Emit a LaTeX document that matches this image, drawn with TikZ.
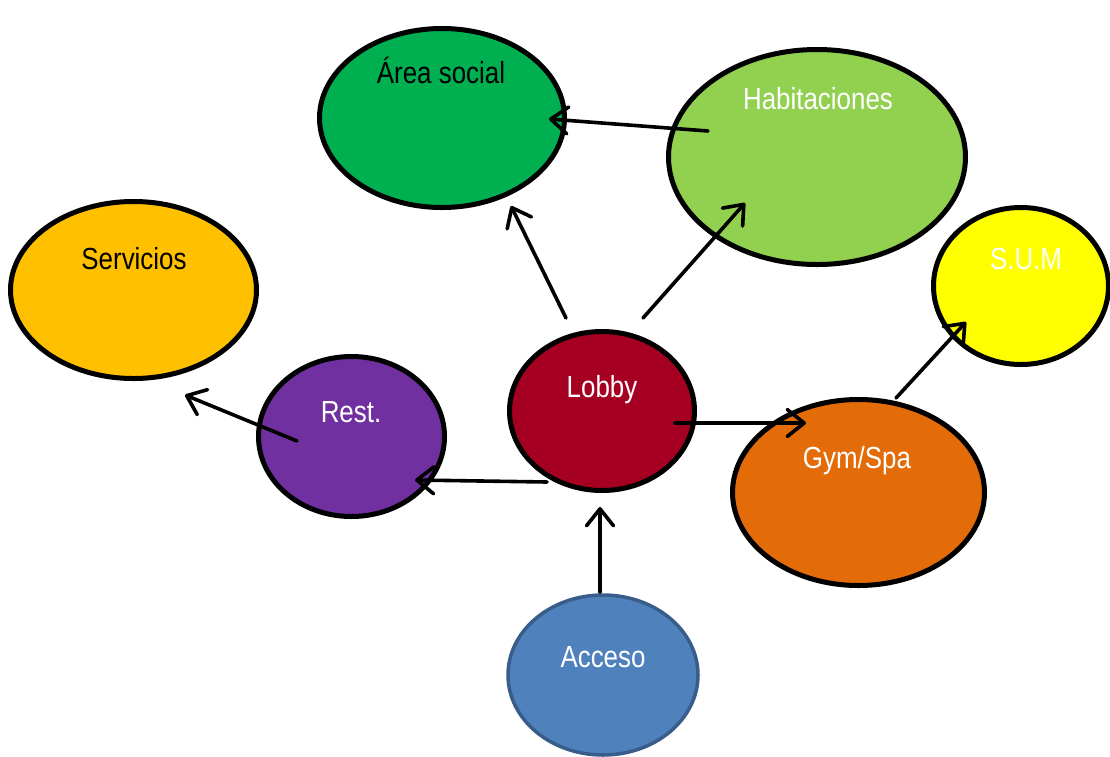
\documentclass[tikz,border=0pt]{standalone}
\usepackage{fontspec}
\setmainfont{Liberation Sans}[FakeStretch=0.85]
\usetikzlibrary{shapes.geometric,arrows.meta,calc}
\definecolor{cArea}{HTML}{00B050}
\definecolor{cHab}{HTML}{92D050}
\definecolor{cServ}{HTML}{FFC000}
\definecolor{cSum}{HTML}{FFFF00}
\definecolor{cLobby}{HTML}{A50021}
\definecolor{cRest}{HTML}{7030A0}
\definecolor{cGym}{HTML}{E36C09}
\definecolor{cAcc}{HTML}{4F81BD}
\definecolor{cAccB}{HTML}{385D8A}
\tikzset{
  blob/.style={ellipse, draw=black, line width=5pt, inner sep=0pt, outer sep=0pt},
  lbl/.style={anchor=base, inner sep=0pt, font=\fontsize{30.5}{36}\selectfont},
  conn/.style={line width=3.6pt, line cap=round, -{Straight Barb[length=17pt,width=27pt,line width=3.6pt,round]}}
}
\begin{document}
\begin{tikzpicture}[x=1pt,y=-1pt]
\useasboundingbox (0,0) rectangle (1110,756);
% ellipses
\node[blob, fill=cArea, minimum width=245pt, minimum height=179pt] (area) at (442,118) {};
\node[blob, fill=cHab, minimum width=297pt, minimum height=215pt] (hab) at (817,157) {};
\node[blob, fill=cServ, minimum width=246pt, minimum height=177pt] (serv) at (133.5,290) {};
\node[blob, fill=cSum, minimum width=175pt, minimum height=157pt] (sum) at (1021,286) {};
\node[blob, fill=cLobby, minimum width=185pt, minimum height=159pt] (lobby) at (602,411) {};
\node[blob, fill=cRest, minimum width=186pt, minimum height=160pt] (rest) at (351.5,436.5) {};
\node[blob, fill=cGym, minimum width=252pt, minimum height=186pt] (gym) at (858.5,492.5) {};
\node[blob, fill=cAcc, draw=cAccB, line width=3.5pt, minimum width=190pt, minimum height=160pt] (acc) at (603,675) {};
% labels
\node[lbl, text=black] (tArea) at (441,83) {Área social};
\node[lbl, text=white] (tHab) at (818,109) {Habitaciones};
\node[lbl, text=black] (tServ) at (134,269) {Servicios};
\node[lbl, text=white] (tSum) at (1026,269) {S.U.M};
\node[lbl, text=white] (tLobby) at (602,397) {Lobby};
\node[lbl, text=white] (tRest) at (351,422) {Rest.};
\node[lbl, text=white] (tGym) at (857,468) {Gym/Spa};
\node[lbl, text=white] (tAcc) at (603,667) {Acceso};
% connector ends, placed relative to the ellipses
\coordinate (habA) at ($(hab)+(-109,-26)$);
\coordinate (areaH) at ($(area)+(107,1)$);
\coordinate (lobbyA) at ($(lobby)+(-36,-93)$);
\coordinate (areaL) at ($(area)+(69,88)$);
\coordinate (lobbyH) at ($(lobby)+(41,-93)$);
\coordinate (habL) at ($(hab)+(-72,46)$);
\coordinate (restS) at ($(rest)+(-54.5,4.5)$);
\coordinate (servR) at ($(serv)+(51.5,105)$);
\coordinate (lobbyR) at ($(lobby)+(-55,71)$);
\coordinate (restL) at ($(rest)+(63.5,43.5)$);
\coordinate (lobbyG) at ($(lobby)+(73,12)$);
\coordinate (gymL) at ($(gym)+(-52.5,-69.5)$);
\coordinate (gymS) at ($(gym)+(37.5,-94.5)$);
\coordinate (sumG) at ($(sum)+(-55,36)$);
\coordinate (accL) at ($(acc)+(-3,-83)$);
\coordinate (lobbyC) at ($(lobby)+(-2,96)$);
% connectors
\draw[conn] (habA) -- (areaH);
\draw[conn] (lobbyA) -- (areaL);
\draw[conn] (lobbyH) -- (habL);
\draw[conn] (restS) -- (servR);
\draw[conn] (lobbyR) -- (restL);
\draw[conn] (lobbyG) -- (gymL);
\draw[conn] (gymS) -- (sumG);
\draw[conn] (accL) -- (lobbyC);
\end{tikzpicture}
\end{document}
